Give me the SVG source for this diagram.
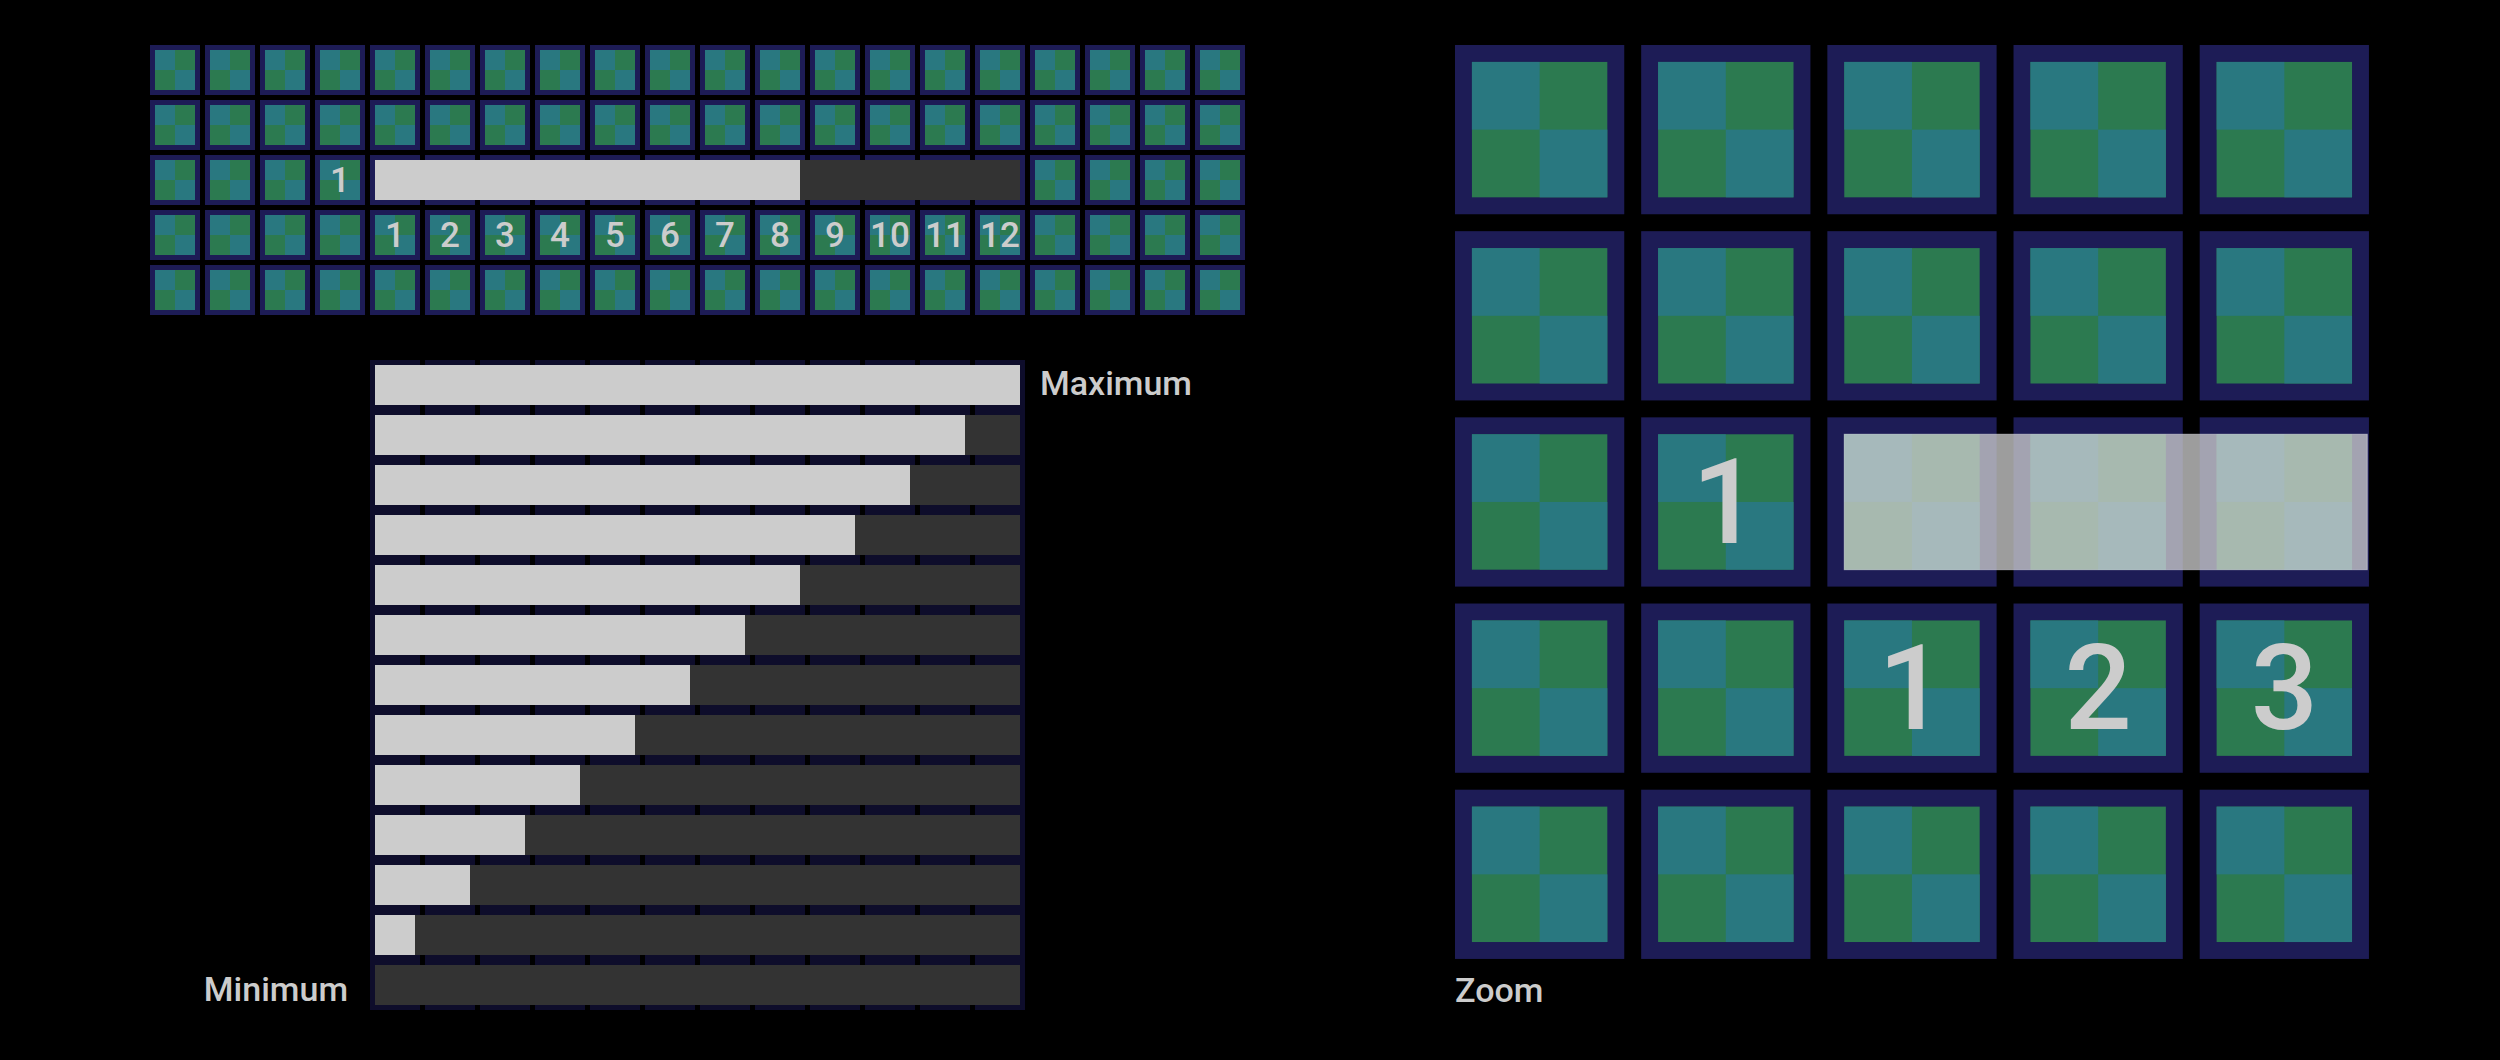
<svg xmlns="http://www.w3.org/2000/svg" xmlns:xlink="http://www.w3.org/1999/xlink" width="2500" height="1060" viewBox="0 0 2500 1060">
<style>
.t{font-family:Roboto,"Liberation Sans",sans-serif;fill:#cccccc;font-weight:500}
.d{font-size:35px;text-anchor:middle}
.l{font-size:34px}
.lt{fill:#cccccc}
.dk{fill:#333333}
.bg{fill:#0e0d2b}
</style>
<defs>
<g id="c">
<rect width="50" height="50" fill="#1d1c56"/>
<rect x="5" y="5" width="40" height="40" fill="#2c7a50"/>
<rect x="5" y="5" width="20" height="20" fill="#297880"/>
<rect x="25" y="25" width="20" height="20" fill="#297880"/>
</g>
<clipPath id="zc"><rect x="260" y="45" width="270" height="270"/></clipPath>
</defs>
<rect width="2500" height="1060" fill="#000000"/>

<g id="grid">
<g id="row0">
<use xlink:href="#c" x="150" y="45"/><use xlink:href="#c" x="205" y="45"/><use xlink:href="#c" x="260" y="45"/><use xlink:href="#c" x="315" y="45"/><use xlink:href="#c" x="370" y="45"/><use xlink:href="#c" x="425" y="45"/><use xlink:href="#c" x="480" y="45"/><use xlink:href="#c" x="535" y="45"/><use xlink:href="#c" x="590" y="45"/><use xlink:href="#c" x="645" y="45"/><use xlink:href="#c" x="700" y="45"/><use xlink:href="#c" x="755" y="45"/><use xlink:href="#c" x="810" y="45"/><use xlink:href="#c" x="865" y="45"/><use xlink:href="#c" x="920" y="45"/><use xlink:href="#c" x="975" y="45"/><use xlink:href="#c" x="1030" y="45"/><use xlink:href="#c" x="1085" y="45"/><use xlink:href="#c" x="1140" y="45"/><use xlink:href="#c" x="1195" y="45"/>
</g>
<g id="row1">
<use xlink:href="#c" x="150" y="100"/><use xlink:href="#c" x="205" y="100"/><use xlink:href="#c" x="260" y="100"/><use xlink:href="#c" x="315" y="100"/><use xlink:href="#c" x="370" y="100"/><use xlink:href="#c" x="425" y="100"/><use xlink:href="#c" x="480" y="100"/><use xlink:href="#c" x="535" y="100"/><use xlink:href="#c" x="590" y="100"/><use xlink:href="#c" x="645" y="100"/><use xlink:href="#c" x="700" y="100"/><use xlink:href="#c" x="755" y="100"/><use xlink:href="#c" x="810" y="100"/><use xlink:href="#c" x="865" y="100"/><use xlink:href="#c" x="920" y="100"/><use xlink:href="#c" x="975" y="100"/><use xlink:href="#c" x="1030" y="100"/><use xlink:href="#c" x="1085" y="100"/><use xlink:href="#c" x="1140" y="100"/><use xlink:href="#c" x="1195" y="100"/>
</g>
<g id="row2">
<use xlink:href="#c" x="150" y="155"/><use xlink:href="#c" x="205" y="155"/><use xlink:href="#c" x="260" y="155"/><use xlink:href="#c" x="315" y="155"/><use xlink:href="#c" x="370" y="155"/><use xlink:href="#c" x="425" y="155"/><use xlink:href="#c" x="480" y="155"/><use xlink:href="#c" x="535" y="155"/><use xlink:href="#c" x="590" y="155"/><use xlink:href="#c" x="645" y="155"/><use xlink:href="#c" x="700" y="155"/><use xlink:href="#c" x="755" y="155"/><use xlink:href="#c" x="810" y="155"/><use xlink:href="#c" x="865" y="155"/><use xlink:href="#c" x="920" y="155"/><use xlink:href="#c" x="975" y="155"/><use xlink:href="#c" x="1030" y="155"/><use xlink:href="#c" x="1085" y="155"/><use xlink:href="#c" x="1140" y="155"/><use xlink:href="#c" x="1195" y="155"/>
<text class="t d" x="340" y="192">1</text>
<rect class="dk" x="375" y="160" width="645" height="40"/>
<rect class="lt" x="375" y="160" width="425" height="40"/>
</g>
<g id="row3">
<use xlink:href="#c" x="150" y="210"/><use xlink:href="#c" x="205" y="210"/><use xlink:href="#c" x="260" y="210"/><use xlink:href="#c" x="315" y="210"/><use xlink:href="#c" x="370" y="210"/><use xlink:href="#c" x="425" y="210"/><use xlink:href="#c" x="480" y="210"/><use xlink:href="#c" x="535" y="210"/><use xlink:href="#c" x="590" y="210"/><use xlink:href="#c" x="645" y="210"/><use xlink:href="#c" x="700" y="210"/><use xlink:href="#c" x="755" y="210"/><use xlink:href="#c" x="810" y="210"/><use xlink:href="#c" x="865" y="210"/><use xlink:href="#c" x="920" y="210"/><use xlink:href="#c" x="975" y="210"/><use xlink:href="#c" x="1030" y="210"/><use xlink:href="#c" x="1085" y="210"/><use xlink:href="#c" x="1140" y="210"/><use xlink:href="#c" x="1195" y="210"/>
<text class="t d" x="395" y="247">1</text><text class="t d" x="450" y="247">2</text><text class="t d" x="505" y="247">3</text><text class="t d" x="560" y="247">4</text><text class="t d" x="615" y="247">5</text><text class="t d" x="670" y="247">6</text><text class="t d" x="725" y="247">7</text><text class="t d" x="780" y="247">8</text><text class="t d" x="835" y="247">9</text><text class="t d" x="890" y="247">10</text><text class="t d" x="945" y="247">11</text><text class="t d" x="1000" y="247">12</text>
</g>
<g id="row4">
<use xlink:href="#c" x="150" y="265"/><use xlink:href="#c" x="205" y="265"/><use xlink:href="#c" x="260" y="265"/><use xlink:href="#c" x="315" y="265"/><use xlink:href="#c" x="370" y="265"/><use xlink:href="#c" x="425" y="265"/><use xlink:href="#c" x="480" y="265"/><use xlink:href="#c" x="535" y="265"/><use xlink:href="#c" x="590" y="265"/><use xlink:href="#c" x="645" y="265"/><use xlink:href="#c" x="700" y="265"/><use xlink:href="#c" x="755" y="265"/><use xlink:href="#c" x="810" y="265"/><use xlink:href="#c" x="865" y="265"/><use xlink:href="#c" x="920" y="265"/><use xlink:href="#c" x="975" y="265"/><use xlink:href="#c" x="1030" y="265"/><use xlink:href="#c" x="1085" y="265"/><use xlink:href="#c" x="1140" y="265"/><use xlink:href="#c" x="1195" y="265"/>
</g>
</g>

<g id="levels">
<g id="levels-bg">
<rect class="bg" x="370" y="360" width="50" height="650"/><rect class="bg" x="425" y="360" width="50" height="650"/><rect class="bg" x="480" y="360" width="50" height="650"/><rect class="bg" x="535" y="360" width="50" height="650"/><rect class="bg" x="590" y="360" width="50" height="650"/><rect class="bg" x="645" y="360" width="50" height="650"/><rect class="bg" x="700" y="360" width="50" height="650"/><rect class="bg" x="755" y="360" width="50" height="650"/><rect class="bg" x="810" y="360" width="50" height="650"/><rect class="bg" x="865" y="360" width="50" height="650"/><rect class="bg" x="920" y="360" width="50" height="650"/><rect class="bg" x="975" y="360" width="50" height="650"/>
</g>
<g id="levels-bars">
<rect class="dk" x="375" y="365" width="645" height="40"/><rect class="lt" x="375" y="365" width="645" height="40"/>
<rect class="dk" x="375" y="415" width="645" height="40"/><rect class="lt" x="375" y="415" width="590" height="40"/>
<rect class="dk" x="375" y="465" width="645" height="40"/><rect class="lt" x="375" y="465" width="535" height="40"/>
<rect class="dk" x="375" y="515" width="645" height="40"/><rect class="lt" x="375" y="515" width="480" height="40"/>
<rect class="dk" x="375" y="565" width="645" height="40"/><rect class="lt" x="375" y="565" width="425" height="40"/>
<rect class="dk" x="375" y="615" width="645" height="40"/><rect class="lt" x="375" y="615" width="370" height="40"/>
<rect class="dk" x="375" y="665" width="645" height="40"/><rect class="lt" x="375" y="665" width="315" height="40"/>
<rect class="dk" x="375" y="715" width="645" height="40"/><rect class="lt" x="375" y="715" width="260" height="40"/>
<rect class="dk" x="375" y="765" width="645" height="40"/><rect class="lt" x="375" y="765" width="205" height="40"/>
<rect class="dk" x="375" y="815" width="645" height="40"/><rect class="lt" x="375" y="815" width="150" height="40"/>
<rect class="dk" x="375" y="865" width="645" height="40"/><rect class="lt" x="375" y="865" width="95" height="40"/>
<rect class="dk" x="375" y="915" width="645" height="40"/><rect class="lt" x="375" y="915" width="40" height="40"/>
<rect class="dk" x="375" y="965" width="645" height="40"/>
</g>
<text class="t l" x="1040" y="395">Maximum</text>
<text class="t l" x="348" y="1001" text-anchor="end">Minimum</text>
</g>

<g id="zoom">
<g transform="translate(1455,45) scale(3.385) translate(-260,-45)">
<g clip-path="url(#zc)">
<use xlink:href="#c" x="260" y="45"/><use xlink:href="#c" x="315" y="45"/><use xlink:href="#c" x="370" y="45"/><use xlink:href="#c" x="425" y="45"/><use xlink:href="#c" x="480" y="45"/>
<use xlink:href="#c" x="260" y="100"/><use xlink:href="#c" x="315" y="100"/><use xlink:href="#c" x="370" y="100"/><use xlink:href="#c" x="425" y="100"/><use xlink:href="#c" x="480" y="100"/>
<use xlink:href="#c" x="260" y="155"/><use xlink:href="#c" x="315" y="155"/><use xlink:href="#c" x="370" y="155"/><use xlink:href="#c" x="425" y="155"/><use xlink:href="#c" x="480" y="155"/>
<use xlink:href="#c" x="260" y="210"/><use xlink:href="#c" x="315" y="210"/><use xlink:href="#c" x="370" y="210"/><use xlink:href="#c" x="425" y="210"/><use xlink:href="#c" x="480" y="210"/>
<use xlink:href="#c" x="260" y="265"/><use xlink:href="#c" x="315" y="265"/><use xlink:href="#c" x="370" y="265"/><use xlink:href="#c" x="425" y="265"/><use xlink:href="#c" x="480" y="265"/>
<text class="t d" x="340" y="192">1</text>
<text class="t d" x="395" y="247">1</text><text class="t d" x="450" y="247">2</text><text class="t d" x="505" y="247">3</text>
<rect x="375" y="160" width="154.5" height="40" fill="#cccccc" fill-opacity="0.77" stroke="#d8d8e0" stroke-opacity="0.6" stroke-width="0.3"/>
</g>
</g>
<text class="t l" x="1455" y="1002">Zoom</text>
</g>
</svg>
